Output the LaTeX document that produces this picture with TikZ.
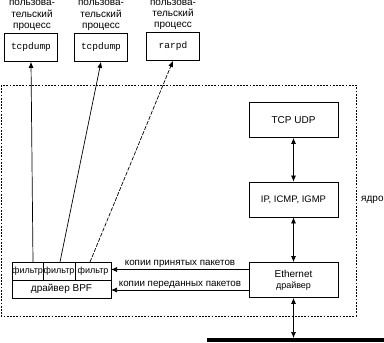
\documentclass[tikz,border=0pt]{standalone}
\usepackage{fontspec}
\setmainfont{Liberation Sans}
\newfontfamily\monof{Liberation Mono}
\usetikzlibrary{arrows.meta}
\tikzset{
  box/.style={draw, line width=0.8pt, rectangle, inner sep=0pt, font=\fontsize{10}{12}\selectfont},
  procbox/.style={box, minimum width=53pt, minimum height=28pt, font=\monof\fontsize{9.5}{11}\selectfont},
  kbox/.style={box, minimum width=89pt, minimum height=35pt},
  cell/.style={draw, line width=0.7pt, rectangle, inner sep=0pt, minimum height=18pt, font=\fontsize{9}{10}\selectfont},
  lbl/.style={inner sep=0pt, anchor=base, font=\fontsize{10}{12}\selectfont},
  small/.style={inner sep=0pt, font=\fontsize{9.8}{11}\selectfont},
  tip/.style={-{Latex[length=6pt,width=5pt]}, line width=0.7pt},
  dtip/.style={{Latex[length=6pt,width=5pt]}-{Latex[length=6pt,width=5pt]}, line width=0.7pt},
  frame/.style={line width=0.8pt, dash pattern=on 1.8pt off 1.4pt}
}
\begin{document}
\begin{tikzpicture}[x=1pt,y=-1pt]
\useasboundingbox (0,0) rectangle (384,343);
% user processes
\foreach \n/\x/\dy in {1/32/0, 2/101/0, 3/173/-0.5}{
  \node[lbl] (a\n) at (\x,5.5+\dy) {пользова-};
  \node[lbl] (b\n) at (\x,17+\dy) {тельский};
  \node[lbl] (c\n) at (\x,28+\dy) {процесс};
}
\node[procbox] (p1) at (31,47.5) {tcpdump};
\node[procbox] (p2) at (101,47.5) {tcpdump};
\node[procbox] (p3) at (173,46.5) {rarpd};
% kernel frame
\draw[frame] (1,85) rectangle (356,316);
\node[anchor=west, inner sep=0pt, font=\fontsize{10}{12}\selectfont] (kern) at (361,200) {ядро};
% protocol boxes
\node[kbox] (tcp) at (293.5,120) {TCP UDP};
\node[kbox, font=\fontsize{9.5}{11}\selectfont] (ip) at (293.5,199.5) {IP, ICMP, IGMP};
\node[kbox, align=center] (eth) at (293.5,280) {Ethernet\\[-1pt]{\fontsize{9}{10}\selectfont драйвер}};
\draw[dtip] (tcp) -- (ip);
\draw[dtip] (ip) -- (eth);
% network wire
\coordinate (wl) at (207,340);
\coordinate (wr) at (384,340);
\draw[line width=4pt] (wl) -- (wr);
\coordinate (wt) at (293.5,338);
\draw[dtip] (eth.south) -- (wt);
% BPF
\node[cell, minimum width=31pt] (f1) at (27.5,271) {фильтр};
\node[cell, minimum width=32pt] (f2) at (59,271) {фильтр};
\node[cell, minimum width=36pt] (f3) at (93,271) {фильтр};
\node[draw, line width=0.7pt, rectangle, inner sep=0pt, minimum width=99pt, minimum height=18pt, font=\fontsize{10}{12}\selectfont] (bpf) at (61.5,289) {драйвер BPF};
% copies
\coordinate (e1) at (249,269.5);
\coordinate (b1) at (111,269.5);
\coordinate (e2) at (249,290);
\coordinate (b2) at (111,290);
\draw[tip] (e1) -- (b1) node[midway, above=1.5pt, small] (t1) {копии принятых пакетов};
\draw[tip] (e2) -- (b2) node[midway, above=1.5pt, small] (t2) {копии переданных пакетов};
% filter to process lines
\coordinate (s1) at (33,262);
\coordinate (s2) at (60,262);
\coordinate (s3) at (90,262);
\draw[tip] (s1) -- (p1.south);
\draw[tip] (s2) -- (p2.south);
\draw[tip, dash pattern=on 4pt off 1.5pt] (s3) -- (p3.south);
\end{tikzpicture}
\end{document}
